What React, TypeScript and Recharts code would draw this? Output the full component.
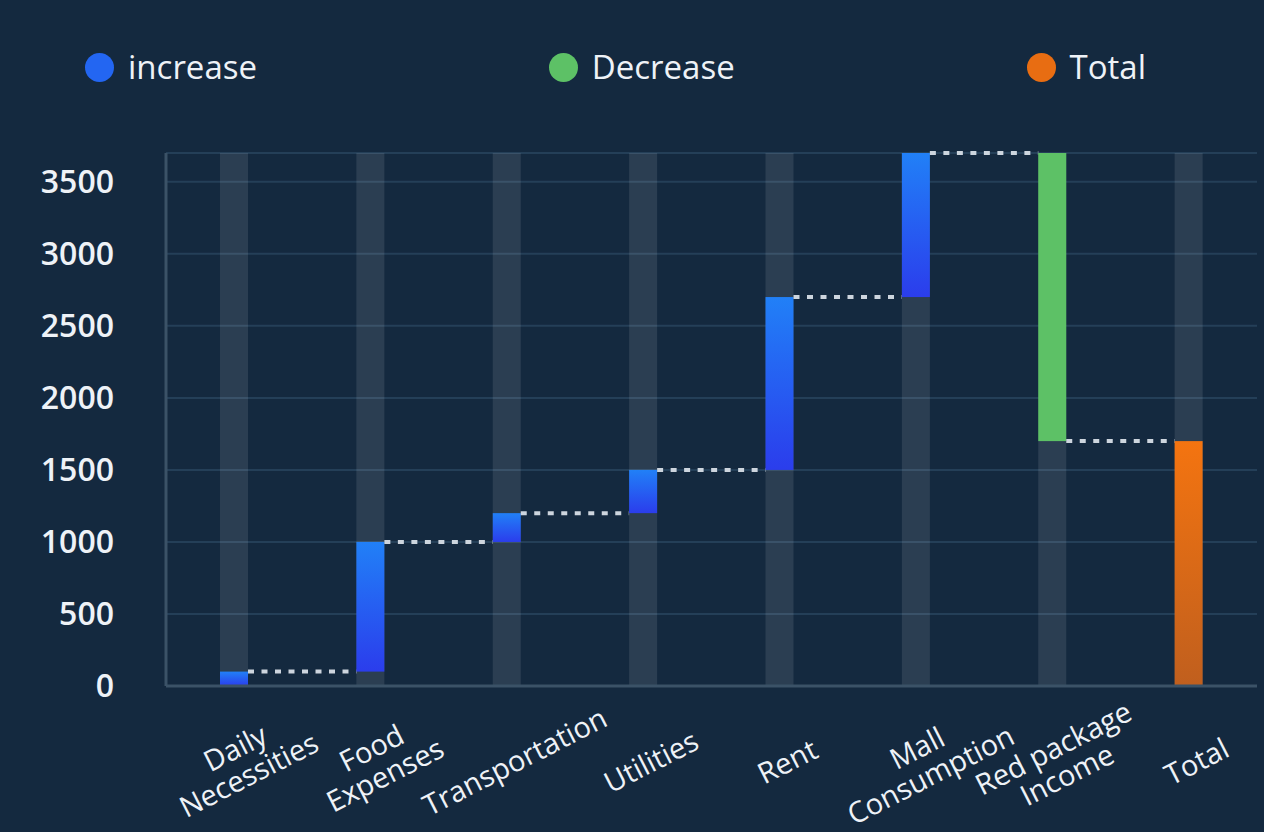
import { Bar, BarChart, CartesianGrid, Legend, XAxis, YAxis } from "recharts";

const categories = [
  "Daily\nNecessities",
  "Food\nExpenses",
  "Transportation",
  "Utilities",
  "Rent",
  "Mall\nConsumption",
  "Red package\nIncome",
  "Total",
];
const changes = [100, 900, 200, 300, 1200, 1000, -2000, 1700];
const kinds = ["increase", "increase", "increase", "increase", "increase", "increase", "decrease", "total"];
const yTicks = [0, 500, 1000, 1500, 2000, 2500, 3000, 3500];
const legendItems = [
  { kind: "increase", label: "increase" },
  { kind: "decrease", label: "Decrease" },
  { kind: "total", label: "Total" },
];

const CHART_W = 1264;
const CHART_H = 832;
const MARGIN = { top: 0, right: 7, bottom: 0, left: 0 };
const Y_AXIS_W = 166;
const LEGEND_H = 153;
const BAR_W = 28;
const STEP = (CHART_W - MARGIN.left - MARGIN.right - Y_AXIS_W) / categories.length;

const BG = "#14293f";
const TEXT = "#eef2f7";
const FONT = "'Open Sans', 'Noto Sans', sans-serif";

const FILLS: Record<string, string> = {
  increase: "url(#incGrad)",
  decrease: "#5dc166",
  total: "url(#totalGrad)",
};
const DOTS: Record<string, string> = {
  increase: "#2366f2",
  decrease: "#5dc166",
  total: "#e86d12",
};

// running total -> [low, high] for each bar
let running = 0;
const data = categories.map((name, i) => {
  const kind = kinds[i];
  let low = 0;
  let high = 0;
  if (kind === "total") {
    high = changes[i];
    running = high;
  } else if (changes[i] >= 0) {
    low = running;
    high = running + changes[i];
    running = high;
  } else {
    high = running;
    low = running + changes[i];
    running = low;
  }
  return { name, kind, range: [low, high] };
});

function WaterfallBar(props: any) {
  const { x, y, width, height, payload, index } = props;
  const top = Math.min(y, y + height);
  const h = Math.abs(height);
  const kind = payload.kind;
  const edgeY = kind === "decrease" ? top + h : top;
  const link = kind !== "total" && index < data.length - 1;
  return (
    <g>
      <rect x={x} y={top} width={width} height={h} fill={FILLS[kind]} />
      {link && (
        <line
          x1={x + width}
          x2={x + STEP}
          y1={edgeY}
          y2={edgeY}
          stroke="#cdd5de"
          strokeWidth={4}
          strokeDasharray="6 7.5"
        />
      )}
    </g>
  );
}

function CategoryTick(props: any) {
  const { x, y, payload } = props;
  const lines = String(payload.value).split("\n");
  const lh = 30;
  const start = -((lines.length - 1) * lh) / 2;
  return (
    <g transform={`translate(${x + 7},${y + 66}) rotate(-27)`}>
      <text
        textAnchor="middle"
        dominantBaseline="central"
        fill={TEXT}
        fontSize={29}
        fontFamily={FONT}
      >
        {lines.map((l, i) => (
          <tspan key={i} x={0} y={start + i * lh}>
            {l}
          </tspan>
        ))}
      </text>
    </g>
  );
}

function LegendContent() {
  return (
    <div
      style={{
        height: LEGEND_H,
        width: CHART_W,
        boxSizing: "border-box",
        padding: "52px 118px 0 85px",
        display: "flex",
        justifyContent: "space-between",
        alignItems: "flex-start",
        fontFamily: FONT,
      }}
    >
      {legendItems.map((item) => (
        <div key={item.kind} style={{ display: "flex", alignItems: "center", height: 30 }}>
          <span
            style={{
              width: 29,
              height: 29,
              borderRadius: "50%",
              background: DOTS[item.kind],
              display: "inline-block",
              marginRight: 14,
            }}
          />
          <span style={{ color: TEXT, fontSize: 33, lineHeight: "30px" }}>{item.label}</span>
        </div>
      ))}
    </div>
  );
}

export default function App() {
  return (
    <div style={{ position: "fixed", left: 0, top: 0, width: CHART_W, height: CHART_H, background: BG }}>
      <BarChart width={CHART_W} height={CHART_H} data={data} margin={MARGIN}>
        <defs>
          <linearGradient id="incGrad" x1="0" y1="0" x2="0" y2="1">
            <stop offset="0%" stopColor="#2180f7" />
            <stop offset="100%" stopColor="#2b3dec" />
          </linearGradient>
          <linearGradient id="totalGrad" x1="0" y1="0" x2="0" y2="1">
            <stop offset="0%" stopColor="#f47410" />
            <stop offset="100%" stopColor="#c05f1e" />
          </linearGradient>
        </defs>
        <Legend
          verticalAlign="top"
          align="left"
          content={<LegendContent />}
          wrapperStyle={{ left: 0, top: 0, width: CHART_W, height: LEGEND_H }}
        />
        <CartesianGrid vertical={false} stroke="#243f58" strokeWidth={2} />
        <XAxis
          dataKey="name"
          interval={0}
          height={CHART_H - LEGEND_H - 533}
          tickLine={false}
          axisLine={{ stroke: "#3b5267", strokeWidth: 3 }}
          tick={<CategoryTick />}
        />
        <YAxis
          width={Y_AXIS_W}
          domain={[0, 3700]}
          ticks={yTicks}
          tickLine={false}
          tickSize={0}
          tickMargin={52}
          axisLine={{ stroke: "#3b5267", strokeWidth: 3 }}
          tick={{ fill: TEXT, fontSize: 32, fontWeight: 600, fontFamily: FONT }}
        />
        <Bar
          dataKey="range"
          barSize={BAR_W}
          background={{ fill: "rgba(255,255,255,0.1)" }}
          shape={<WaterfallBar />}
          isAnimationActive={false}
        />
      </BarChart>
    </div>
  );
}
